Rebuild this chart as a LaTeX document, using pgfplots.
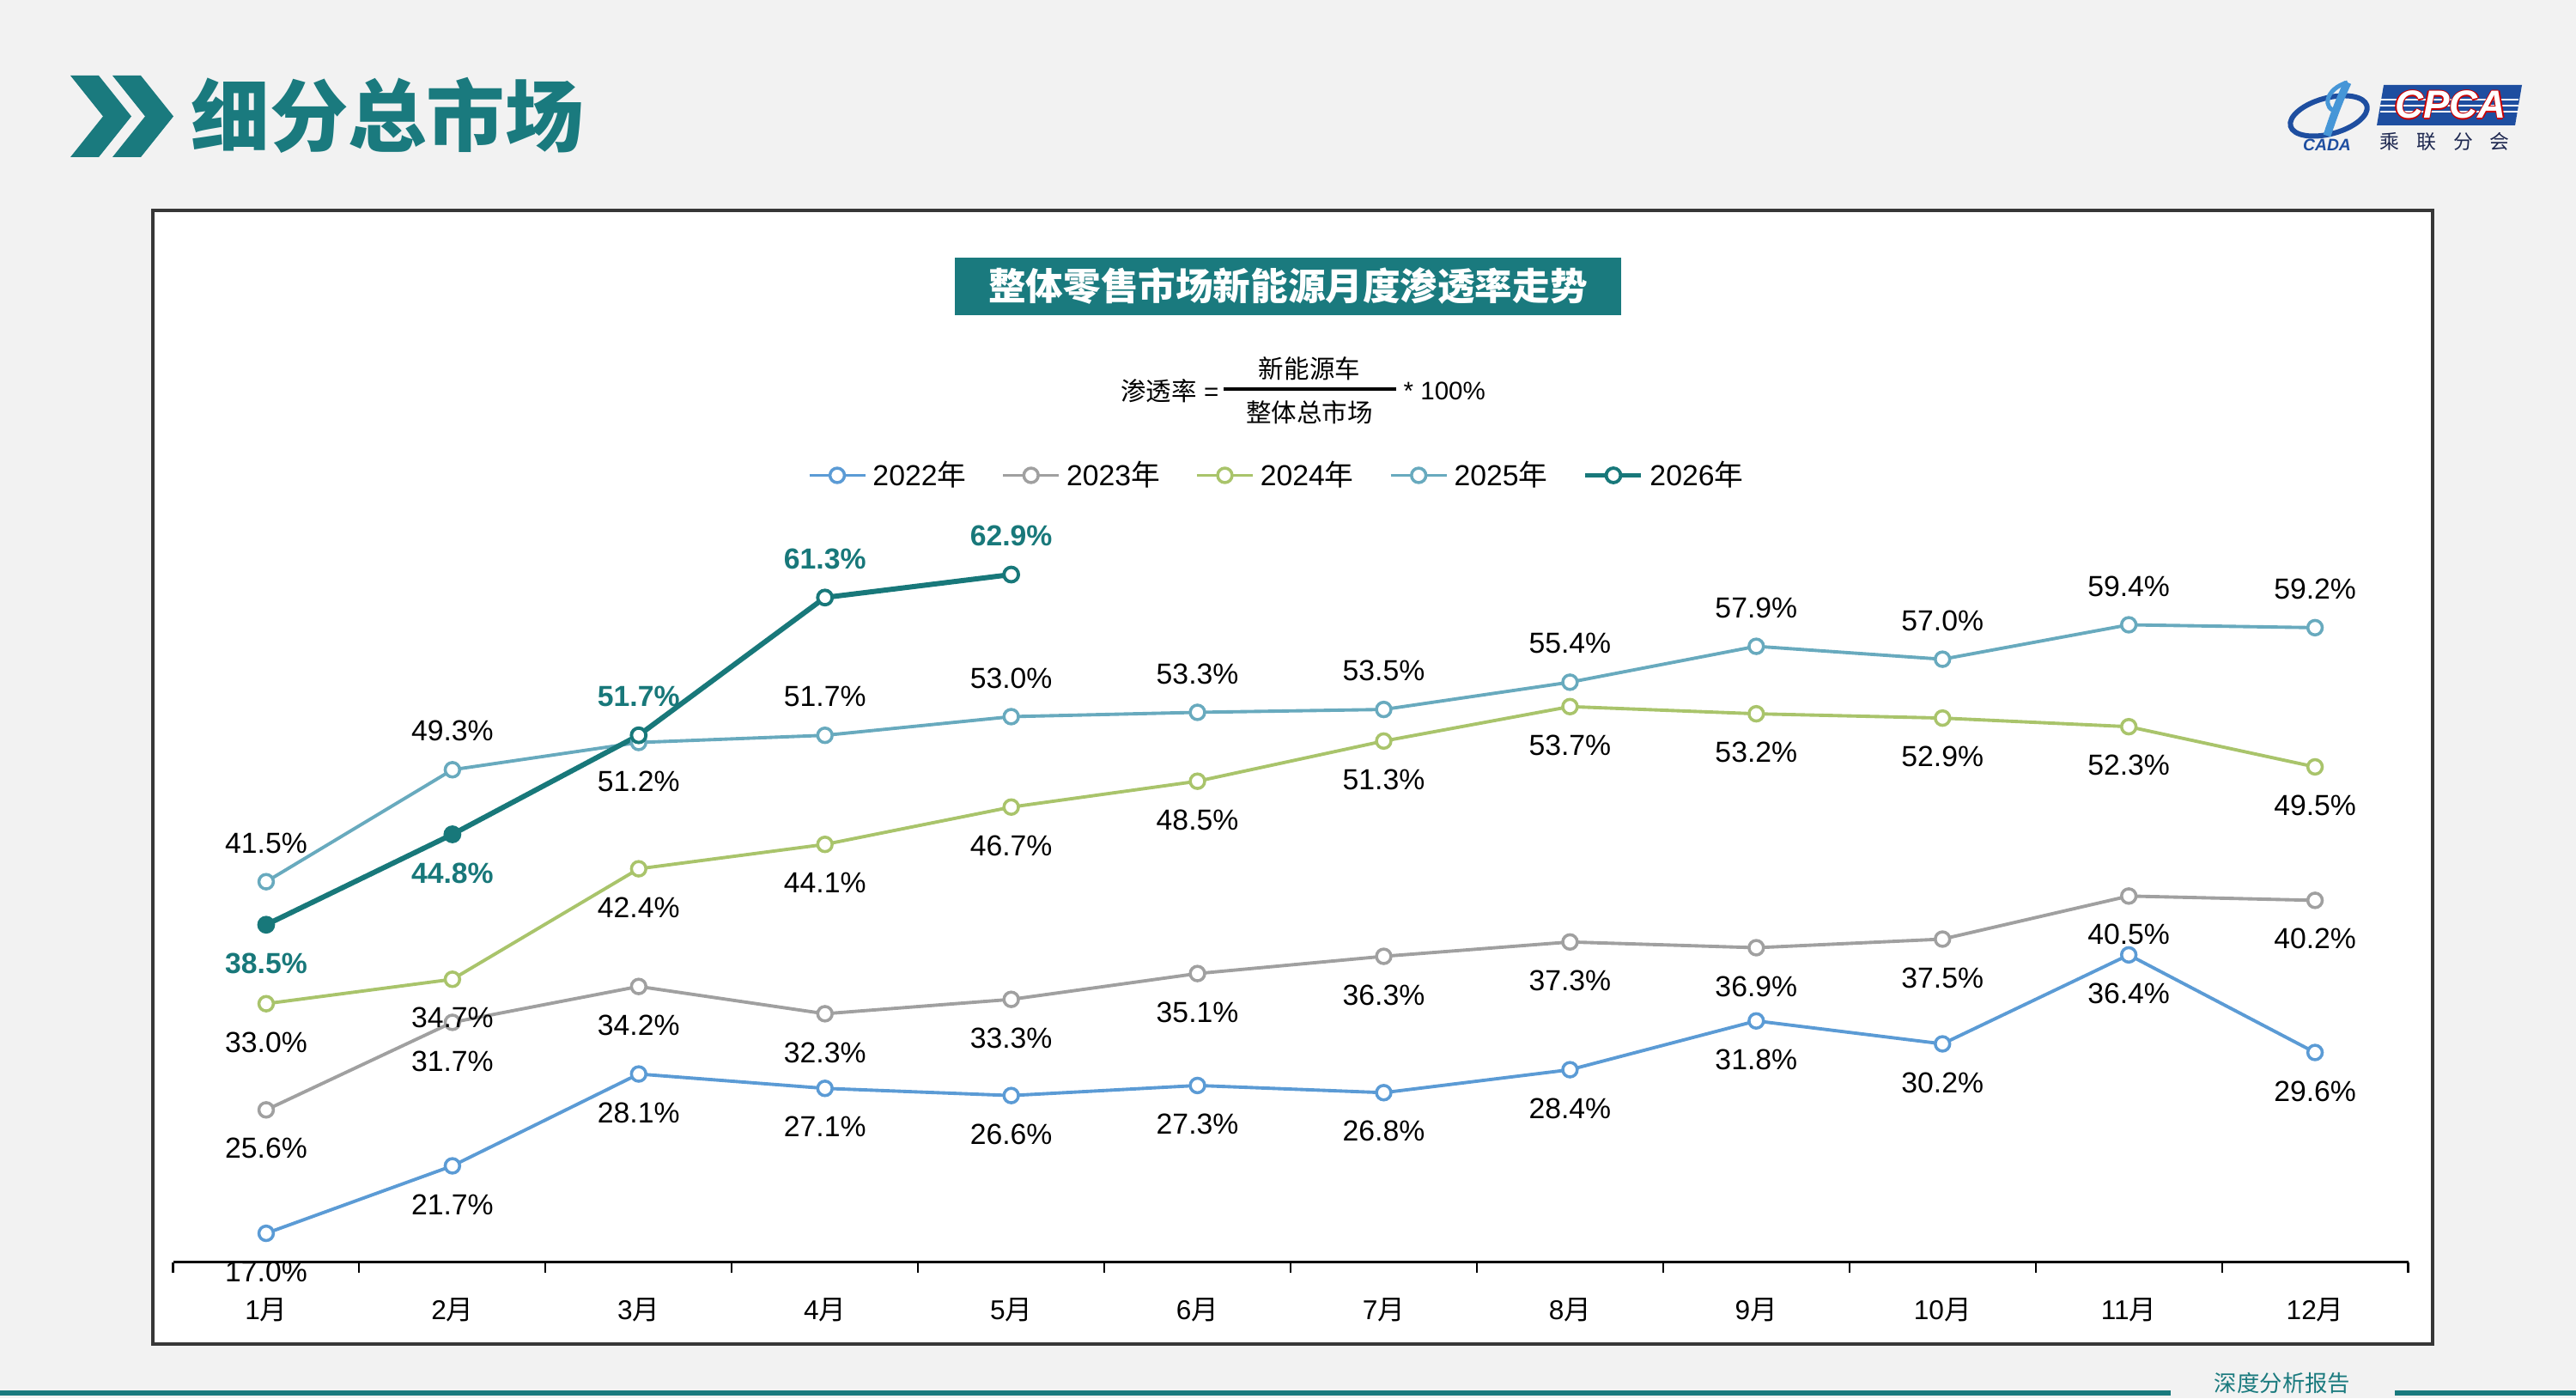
\documentclass[border=0pt]{standalone}
\usepackage{pgfplots}
\pgfplotsset{compat=1.18}
\usepackage{pgfplotstable}
\usepackage{fontspec}
\setmainfont{Liberation Sans}
\newfontfamily\cjk{Noto Sans CJK SC}

\definecolor{bg}{RGB}{242,242,242}
\definecolor{teal1}{RGB}{26,122,126}
\definecolor{c22}{RGB}{91,155,213}
\definecolor{c23}{RGB}{160,160,160}
\definecolor{c24}{RGB}{169,196,107}
\definecolor{c25}{RGB}{104,170,190}
\definecolor{c26}{RGB}{24,120,122}
\definecolor{logoblue}{RGB}{30,78,160}
\definecolor{logolight}{RGB}{70,150,215}
\definecolor{logotext}{RGB}{30,40,80}
\definecolor{boxborder}{RGB}{55,55,55}

\pgfplotstableread{
x y off
0 17.0 -1
1 21.7 -1
2 28.1 -1
3 27.1 -1
4 26.6 -1
5 27.3 -1
6 26.8 -1
7 28.4 -1
8 31.8 -1
9 30.2 -1
10 36.4 -1
11 29.6 -1
}\dA
\pgfplotstableread{
x y off
0 25.6 -1
1 31.7 -1
2 34.2 -1
3 32.3 -1
4 33.3 -1
5 35.1 -1
6 36.3 -1
7 37.3 -1
8 36.9 -1
9 37.5 -1
10 40.5 -1
11 40.2 -1
}\dB
\pgfplotstableread{
x y off
0 33.0 -1
1 34.7 -1
2 42.4 -1
3 44.1 -1
4 46.7 -1
5 48.5 -1
6 51.3 -1
7 53.7 -1
8 53.2 -1
9 52.9 -1
10 52.3 -1
11 49.5 -1
}\dC
\pgfplotstableread{
x y off
0 41.5 1
1 49.3 1
2 51.2 -1
3 51.7 1
4 53.0 1
5 53.3 1
6 53.5 1
7 55.4 1
8 57.9 1
9 57.0 1
10 59.4 1
11 59.2 1
}\dD
\pgfplotstableread{
x y off
0 38.5 -1
1 44.8 -1
2 51.7 1
3 61.3 1
4 62.9 1
}\dE

\begin{document}
\begin{tikzpicture}
\clip (0,0) rectangle (30,16.28);
\path[use as bounding box] (0,0) rectangle (30,16.28);
\fill[bg] (0,0) rectangle (30,16.28);

% header chevrons and title
\fill[teal1] (0.82,15.40) -- (1.15,15.40) -- (1.53,14.925) -- (1.15,14.45) -- (0.82,14.45) -- (1.20,14.925) -- cycle;
\fill[teal1] (1.31,15.40) -- (1.64,15.40) -- (2.02,14.925) -- (1.64,14.45) -- (1.31,14.45) -- (1.69,14.925) -- cycle;
\node[anchor=west, text=teal1, inner sep=0pt, font=\cjk\bfseries\fontsize{26}{30}\selectfont] at (2.22,14.94) {细分总市场};

% logo
\draw[logoblue, line width=0.06cm, rotate around={15:(27.12,14.93)}] (27.12,14.93) ellipse (0.46 and 0.21);
\draw[logolight, line width=0.09cm] (27.10,14.70) .. controls (27.18,14.95) and (27.26,15.15) .. (27.34,15.32);
\draw[logolight, line width=0.05cm] (27.34,15.32) .. controls (27.08,15.25) and (27.03,15.00) .. (27.23,14.98);
\node[text=logoblue, inner sep=0pt, font=\bfseries\itshape\fontsize{5.5}{6}\selectfont] at (27.10,14.595) {CADA};
\fill[logoblue] (27.68,14.82) -- (29.29,14.82) -- (29.37,15.29) -- (27.76,15.29) -- cycle;
\foreach \yy in {15.12,15.05,14.98} \draw[white, line width=0.5pt] (27.72,\yy) -- (29.33,\yy);
\foreach \dx/\dy in {0.015/0,-0.015/0,0/0.015,0/-0.015}
  \node[text=red!80!black, inner sep=0pt, font=\bfseries\itshape\fontsize{13}{14}\selectfont] at (28.54+\dx,15.06+\dy) {CPCA};
\node[text=white, inner sep=0pt, font=\bfseries\itshape\fontsize{13}{14}\selectfont] at (28.54,15.06) {CPCA};
\node[text=logotext, inner sep=0pt, font=\cjk\fontsize{6.5}{7}\selectfont] at (28.47,14.63) {乘\hspace{0.2cm}联\hspace{0.2cm}分\hspace{0.2cm}会};

% chart box
\filldraw[fill=white, draw=boxborder, line width=0.04cm] (1.78,0.63) rectangle (28.33,13.83);

% banner
\fill[teal1] (11.12,12.61) rectangle (18.88,13.28);
\node[text=white, inner sep=0pt, font=\cjk\bfseries\fontsize{12.4}{14}\selectfont] at (15.0,12.945) {整体零售市场新能源月度渗透率走势};

% formula
\node[anchor=east, inner sep=0pt, font=\fontsize{8.4}{10}\selectfont] at (14.20,11.73) {{\cjk 渗透率} =};
\draw[black, line width=1pt] (14.25,11.75) -- (16.26,11.75);
\node[inner sep=0pt, font=\cjk\fontsize{8.4}{10}\selectfont] at (15.25,11.99) {新能源车};
\node[inner sep=0pt, font=\cjk\fontsize{8.4}{10}\selectfont] at (15.25,11.48) {整体总市场};
\node[anchor=west, inner sep=0pt, font=\fontsize{8.4}{10}\selectfont] at (16.34,11.73) {* 100\%};

% footer
\draw[teal1, line width=0.06cm] (0,0.06) -- (25.28,0.06);
\draw[teal1, line width=0.06cm] (27.89,0.06) -- (30,0.06);
\node[text=teal1, inner sep=0pt, font=\cjk\fontsize{7.5}{9}\selectfont] at (26.58,0.17) {深度分析报告};

\begin{axis}[
  at={(2.015cm,1.585cm)}, anchor=south west,
  scale only axis, width=26.03cm, height=8.69cm,
  xmin=-0.5, xmax=11.5, ymin=15, ymax=67,
  clip=false,
  /pgf/number format/assume math mode=true,
  axis x line=bottom, axis y line=none,
  x axis line style={-, line width=1pt, black},
  xtick={0,...,11},
  xticklabels={1{\cjk 月},2{\cjk 月},3{\cjk 月},4{\cjk 月},5{\cjk 月},6{\cjk 月},7{\cjk 月},8{\cjk 月},9{\cjk 月},10{\cjk 月},11{\cjk 月},12{\cjk 月}},
  major tick length=0pt,
  minor xtick={-0.5,0.5,...,11.5},
  minor tick length=0.12cm,
  tick align=outside,
  minor tick style={black, line width=0.6pt},
  xticklabel style={anchor=center, yshift=-0.555cm, font=\fontsize{9}{10}\selectfont},
  legend style={at={(0.4946,1)}, anchor=center, yshift=0.47cm, draw=none, fill=none,
    legend columns=5, font=\fontsize{9.6}{11}\selectfont,
    /tikz/every even column/.append style={column sep=0.34cm}},
  legend cell align=left,
  legend image code/.code={\draw[mark repeat=2, mark phase=2] plot coordinates {(0cm,0cm) (0.325cm,0cm) (0.65cm,0cm)};},
  every axis plot/.append style={mark=*, mark size=2.4pt},
  nodes near coords={\pgfmathprintnumber[fixed, fixed zerofill, precision=1, assume math mode=true]{\pgfplotspointmeta}\%},
  point meta=y,
  visualization depends on={\thisrow{off} \as \off},
  every node near coord/.append style={anchor=center, yshift=\off*0.45cm, inner sep=0pt, text=black, font=\fontsize{9.6}{11}\selectfont},
]
\addplot[c22, line width=1.1pt, mark options={fill=white, line width=1pt}] table[x=x, y=y] {\dA};
\addlegendentry{2022{\cjk 年}}
\addplot[c23, line width=1.1pt, mark options={fill=white, line width=1pt}] table[x=x, y=y] {\dB};
\addlegendentry{2023{\cjk 年}}
\addplot[c24, line width=1.1pt, mark options={fill=white, line width=1pt}] table[x=x, y=y] {\dC};
\addlegendentry{2024{\cjk 年}}
\addplot[c25, line width=1.1pt, mark options={fill=white, line width=1pt}] table[x=x, y=y] {\dD};
\addlegendentry{2025{\cjk 年}}
\addplot[c26, line width=1.7pt, mark options={fill=white, line width=1.1pt},
  every node near coord/.append style={text=c26, font=\bfseries\fontsize{9.6}{11}\selectfont}] table[x=x, y=y] {\dE};
\addlegendentry{2026{\cjk 年}}
\end{axis}
\begin{axis}[
  at={(2.015cm,1.585cm)}, anchor=south west,
  scale only axis, width=26.03cm, height=8.69cm,
  xmin=-0.5, xmax=11.5, ymin=15, ymax=67,
  clip=false, hide axis,
]
\addplot[c26, only marks, mark=*, mark size=2.4pt] coordinates {(0,38.5) (1,44.8)};
\end{axis}
\end{tikzpicture}
\end{document}
